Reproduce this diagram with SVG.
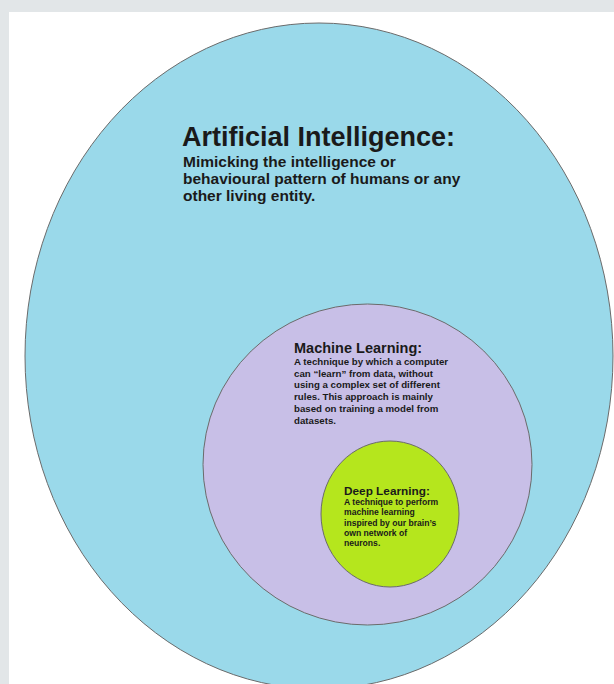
<svg xmlns="http://www.w3.org/2000/svg" width="614" height="684" viewBox="0 0 614 684">
<style>
.shape{stroke:#6b6b6b;stroke-width:1}
.t{font-family:"Liberation Sans",Arial,sans-serif;font-weight:bold;fill:#1a1a1a}
</style>
<rect x="0" y="0" width="614" height="684" fill="#e2e6e8"/>
<rect x="9" y="12" width="605" height="672" fill="#ffffff"/>
<g id="ai">
<ellipse class="shape" cx="319" cy="356" rx="294" ry="333" fill="#9ad9ea"/>
<text class="t" x="182" y="146" font-size="27">Artificial Intelligence:</text>
<text class="t" font-size="15.5"><tspan x="183" y="167">Mimicking the intelligence or</tspan><tspan x="183" y="184">behavioural pattern of humans or any</tspan><tspan x="183" y="201">other living entity.</tspan></text>
</g>
<g id="ml">
<ellipse class="shape" cx="367.5" cy="464.5" rx="164.5" ry="160.5" fill="#c8bfe7"/>
<text class="t" x="294" y="353" font-size="14.5">Machine Learning:</text>
<text class="t" font-size="9.7"><tspan x="294" y="365">A technique by which a computer</tspan><tspan x="294" y="376.7">can “learn” from data, without</tspan><tspan x="294" y="388.4">using a complex set of different</tspan><tspan x="294" y="400.1">rules. This approach is mainly</tspan><tspan x="294" y="411.8">based on training a model from</tspan><tspan x="294" y="423.5">datasets.</tspan></text>
</g>
<g id="dl">
<ellipse class="shape" cx="390" cy="514" rx="69" ry="73" fill="#b5e61d"/>
<text class="t" x="344" y="495" font-size="11.8">Deep Learning:</text>
<text class="t" font-size="8.6"><tspan x="344" y="505">A technique to perform</tspan><tspan x="344" y="515.3">machine learning</tspan><tspan x="344" y="525.6">inspired by our brain’s</tspan><tspan x="344" y="535.9">own network of</tspan><tspan x="344" y="546.2">neurons.</tspan></text>
</g>
<g id="connectors"></g>
</svg>
